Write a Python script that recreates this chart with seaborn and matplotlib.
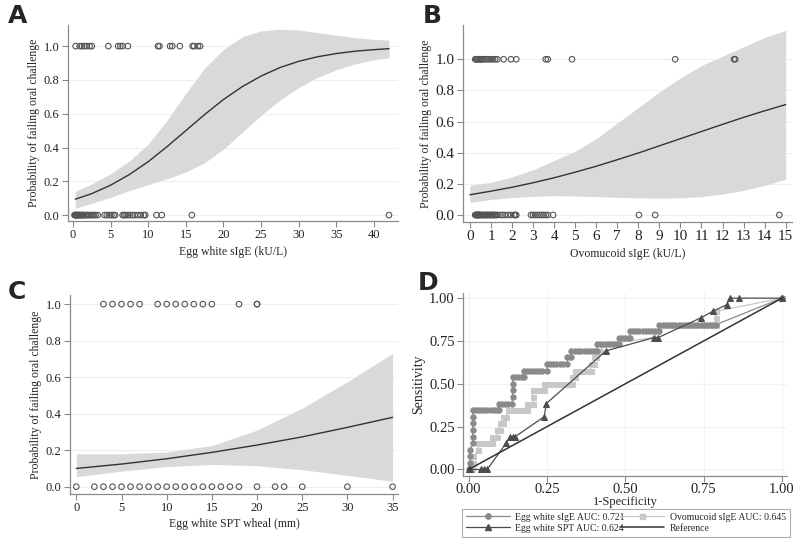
import numpy as np
import pandas as pd
import seaborn as sns
import matplotlib.pyplot as plt
from matplotlib.lines import Line2D
from matplotlib.ticker import FormatStrFormatter

# ---- Panel A: egg white sIgE (kU/L) ----
a_fail = [0.35, 0.9, 1.2, 1.5, 1.8, 2.2, 2.5, 4.7, 6.0, 6.3, 6.6, 7.3,
          11.3, 11.5, 12.9, 13.2, 14.2, 15.9, 16.1, 16.6, 16.9]
a_pass = [0.2, 0.3, 0.35, 0.4, 0.5, 0.55, 0.6, 0.7, 0.8, 0.9, 1.0, 1.1, 1.2,
          1.3, 1.4, 1.5, 1.7, 1.9, 2.0, 2.2, 2.4, 2.6, 2.8, 3.0, 3.3, 4.2,
          4.5, 4.8, 5.1, 5.4, 5.6, 6.6, 6.8, 7.0, 7.3, 7.6, 7.9, 8.2, 8.6,
          9.0, 9.4, 9.6, 11.1, 11.8, 15.8, 42.0]
a_x = [0.3, 2.5, 5, 7.5, 10, 12.5, 15, 17.5, 20, 22.5, 25, 27.5, 30, 32.5,
       35, 37.5, 40, 42]
a_fit = [0.094, 0.127, 0.177, 0.240, 0.316, 0.405, 0.500, 0.595, 0.684,
         0.760, 0.823, 0.873, 0.910, 0.937, 0.956, 0.970, 0.979, 0.985]
a_lo = [0.04, 0.07, 0.105, 0.145, 0.18, 0.215, 0.255, 0.31, 0.39, 0.49,
        0.59, 0.68, 0.755, 0.815, 0.86, 0.895, 0.92, 0.93]
a_hi = [0.14, 0.185, 0.245, 0.32, 0.42, 0.56, 0.72, 0.87, 0.98, 1.055,
        1.09, 1.10, 1.095, 1.08, 1.065, 1.05, 1.04, 1.035]

# ---- Panel B: ovomucoid sIgE (kU/L) ----
b_fail = [0.25, 0.3, 0.35, 0.4, 0.45, 0.5, 0.55, 0.6, 0.7, 0.8, 0.9, 1.0,
          1.1, 1.2, 1.3, 1.6, 1.95, 2.2, 3.6, 3.7, 4.85, 9.75, 12.55, 12.6]
b_pass = [0.25, 0.28, 0.3, 0.33, 0.35, 0.38, 0.4, 0.43, 0.45, 0.48, 0.5,
          0.55, 0.6, 0.65, 0.7, 0.75, 0.8, 0.85, 0.9, 0.95, 1.0, 1.05, 1.1,
          1.15, 1.2, 1.25, 1.3, 1.45, 1.55, 1.65, 1.8, 1.95, 2.1, 2.15, 2.2,
          2.9, 3.0, 3.1, 3.2, 3.3, 3.4, 3.5, 3.6, 3.7, 3.95, 8.03, 8.8, 14.7]
b_x = list(range(16))
b_fit = [0.130, 0.153, 0.178, 0.207, 0.239, 0.275, 0.313, 0.355, 0.398,
         0.444, 0.490, 0.536, 0.582, 0.627, 0.669, 0.709]
b_lo = [0.08, 0.10, 0.112, 0.12, 0.124, 0.122, 0.118, 0.113, 0.11, 0.108,
        0.11, 0.118, 0.135, 0.158, 0.19, 0.23]
b_hi = [0.19, 0.21, 0.245, 0.29, 0.35, 0.41, 0.49, 0.59, 0.69, 0.79, 0.88,
        0.96, 1.02, 1.08, 1.14, 1.185]

# ---- Panel C: egg white SPT wheal (mm) ----
c_fail = [3, 4, 5, 6, 7, 9, 10, 11, 12, 13, 14, 15, 18, 20, 20]
c_pass = [0, 2, 3, 4, 5, 6, 7, 8, 9, 10, 11, 12, 13, 14, 15, 16, 17, 18,
          20, 22, 23, 25, 30, 35]
c_x = [0, 5, 10, 15, 20, 25, 30, 35]
c_fit = [0.10, 0.124, 0.153, 0.188, 0.228, 0.273, 0.325, 0.38]
c_lo = [0.055, 0.085, 0.11, 0.122, 0.115, 0.093, 0.062, 0.03]
c_hi = [0.18, 0.18, 0.19, 0.225, 0.31, 0.43, 0.575, 0.73]

# ---- Panel D: ROC curves ----
sige_fpr = [0, 0.005, 0.005, 0.005, 0.013, 0.013, 0.013, 0.013, 0.013, 0.013,
            0.02, 0.03, 0.04, 0.05, 0.06, 0.07, 0.08, 0.09, 0.096,
            0.096, 0.105, 0.115, 0.125, 0.138,
            0.14, 0.14, 0.14,
            0.14, 0.15, 0.16, 0.17, 0.176,
            0.176, 0.185, 0.195, 0.205, 0.215, 0.225, 0.235, 0.25,
            0.25, 0.26, 0.27, 0.28, 0.29, 0.30, 0.314,
            0.314, 0.322, 0.328,
            0.328, 0.34, 0.35, 0.36, 0.37, 0.38, 0.39, 0.40, 0.41,
            0.41, 0.42, 0.43, 0.44, 0.45, 0.46, 0.47, 0.48,
            0.48, 0.49, 0.50, 0.51, 0.516,
            0.516, 0.525, 0.535, 0.545, 0.555, 0.565, 0.575, 0.585, 0.595, 0.606,
            0.606, 0.62, 0.63, 0.64, 0.65, 0.66, 0.67, 0.68, 0.69, 0.70, 0.71,
            0.72, 0.73, 0.74, 0.75, 0.76, 0.77, 0.78, 0.79,
            1.0]
sige_tpr = [0, 0.038, 0.077, 0.115, 0.154, 0.192, 0.231, 0.269, 0.308, 0.346,
            0.346, 0.346, 0.346, 0.346, 0.346, 0.346, 0.346, 0.346, 0.346,
            0.385, 0.385, 0.385, 0.385, 0.385,
            0.423, 0.462, 0.5,
            0.538, 0.538, 0.538, 0.538, 0.538,
            0.577, 0.577, 0.577, 0.577, 0.577, 0.577, 0.577, 0.577,
            0.615, 0.615, 0.615, 0.615, 0.615, 0.615, 0.615,
            0.654, 0.654, 0.654,
            0.692, 0.692, 0.692, 0.692, 0.692, 0.692, 0.692, 0.692, 0.692,
            0.731, 0.731, 0.731, 0.731, 0.731, 0.731, 0.731, 0.731,
            0.769, 0.769, 0.769, 0.769, 0.769,
            0.808, 0.808, 0.808, 0.808, 0.808, 0.808, 0.808, 0.808, 0.808, 0.808,
            0.846, 0.846, 0.846, 0.846, 0.846, 0.846, 0.846, 0.846, 0.846, 0.846,
            0.846, 0.846, 0.846, 0.846, 0.846, 0.846, 0.846, 0.846, 0.846,
            1.0]

ovo_fpr = [0, 0.01, 0.015, 0.015, 0.03,
           0.03, 0.04, 0.05, 0.06, 0.074,
           0.074, 0.082, 0.09,
           0.09, 0.10,
           0.10, 0.11,
           0.11, 0.12,
           0.125, 0.135, 0.145, 0.155, 0.165, 0.175, 0.185,
           0.185, 0.195, 0.205,
           0.205,
           0.205, 0.215, 0.225, 0.24,
           0.24, 0.25, 0.26, 0.27, 0.28, 0.29, 0.30, 0.31, 0.32, 0.33,
           0.33, 0.34,
           0.34, 0.35, 0.36, 0.37, 0.38, 0.39,
           0.39, 0.40,
           0.40, 0.405,
           0.41, 0.42,
           0.43, 0.59, 0.60,
           0.61, 0.63, 0.65, 0.67, 0.69, 0.71, 0.73, 0.75, 0.77, 0.79,
           0.79, 0.79, 1.0]
ovo_tpr = [0, 0, 0.038, 0.077, 0.115,
           0.154, 0.154, 0.154, 0.154, 0.154,
           0.192, 0.192, 0.192,
           0.231, 0.231,
           0.269, 0.269,
           0.308, 0.308,
           0.346, 0.346, 0.346, 0.346, 0.346, 0.346, 0.346,
           0.385, 0.385, 0.385,
           0.423,
           0.462, 0.462, 0.462, 0.462,
           0.5, 0.5, 0.5, 0.5, 0.5, 0.5, 0.5, 0.5, 0.5, 0.5,
           0.538, 0.538,
           0.577, 0.577, 0.577, 0.577, 0.577, 0.577,
           0.615, 0.615,
           0.654, 0.654,
           0.692, 0.692,
           0.731, 0.769, 0.808,
           0.846, 0.846, 0.846, 0.846, 0.846, 0.846, 0.846, 0.846, 0.846, 0.846,
           0.885, 0.923, 1.0]

spt_fpr = [0, 0.005, 0.04, 0.048, 0.059, 0.12, 0.133, 0.141, 0.149, 0.241,
           0.248, 0.438, 0.59, 0.604, 0.741, 0.779, 0.824, 0.833, 0.864, 1.0]
spt_tpr = [0, 0, 0, 0, 0, 0.154, 0.192, 0.192, 0.192, 0.308,
           0.385, 0.692, 0.769, 0.769, 0.885, 0.923, 0.962, 1.0, 1.0, 1.0]

ref_fpr = [0, 1]
ref_tpr = [0, 1]

roc_labels = ["Egg white sIgE AUC: 0.721", "Egg white SPT AUC: 0.624",
              "Ovomucoid sIgE AUC: 0.645", "Reference"]

YLABEL = "Probability of failing oral challenge"
AXIS_GREY = "#8a8a8a"

sns.set_theme(style="white")
plt.rcParams["font.family"] = ["Liberation Serif", "DejaVu Serif"]


def style_axes(ax, tick_size):
    sns.despine(ax=ax)
    for side in ["left", "bottom"]:
        ax.spines[side].set_color(AXIS_GREY)
        ax.spines[side].set_linewidth(0.9)
    ax.tick_params(axis="both", which="both", direction="out", length=4,
                   width=0.8, color=AXIS_GREY, labelsize=tick_size,
                   left=True, bottom=True, pad=2, labelcolor="#222222")


def plot_logit(ax, fail, passed, x, fit, lo, hi, xlabel, xticks, xlim, ylim,
               tick_size):
    ax.set_axisbelow(True)
    ax.yaxis.grid(True, color="#efefef", lw=0.8)
    ax.fill_between(x, lo, hi, color="#d9d9d9", lw=0, zorder=1)
    sns.lineplot(x=x, y=fit, ax=ax, color="#333333", lw=1.0, zorder=2)
    pts = pd.DataFrame({
        "x": list(fail) + list(passed),
        "y": [1.0] * len(fail) + [0.0] * len(passed),
    })
    sns.scatterplot(data=pts, x="x", y="y", ax=ax, marker="o", s=16,
                    facecolor="none", edgecolor="#555555", linewidth=0.8,
                    zorder=3)
    ax.set_xlim(*xlim)
    ax.set_ylim(*ylim)
    ax.set_xticks(xticks)
    ax.set_yticks([0, 0.2, 0.4, 0.6, 0.8, 1.0])
    ax.yaxis.set_major_formatter(FormatStrFormatter("%.1f"))
    ax.set_xlabel(xlabel, fontsize=8.5, labelpad=3)
    ax.set_ylabel(YLABEL, fontsize=8.5, labelpad=3)
    style_axes(ax, tick_size)


W, H = 800, 552
fig = plt.figure(figsize=(W / 100, H / 100), dpi=100)


def add_ax(left, top, right, bottom):
    return fig.add_axes([left / W, 1 - bottom / H, (right - left) / W,
                         (bottom - top) / H])


ax_a = add_ax(68, 25, 398, 221)
ax_b = add_ax(463, 25, 792, 222)
ax_c = add_ax(70, 295, 398, 494)
ax_d = add_ax(463, 293, 787, 476)

plot_logit(ax_a, a_fail, a_pass, a_x, a_fit, a_lo, a_hi,
           "Egg white sIgE (kU/L)", range(0, 45, 5), (-0.66, 43.2),
           (-0.035, 1.125), 9)
plot_logit(ax_b, b_fail, b_pass, b_x, b_fit, b_lo, b_hi,
           "Ovomucoid sIgE (kU/L)", range(0, 16), (-0.33, 15.3),
           (-0.045, 1.22), 11)
plot_logit(ax_c, c_fail, c_pass, c_x, c_fit, c_lo, c_hi,
           "Egg white SPT wheal (mm)", range(0, 40, 5), (-0.7, 35.6),
           (-0.04, 1.05), 9)

# ROC panel
ax_d.set_axisbelow(True)
ax_d.grid(True, color="#f2f2f2", lw=0.8)
sns.lineplot(x=ovo_fpr, y=ovo_tpr, ax=ax_d, sort=False, estimator=None,
             color="#c8c8c8", lw=0.9, marker="s", ms=3.6, mec="#c8c8c8",
             zorder=2)
sns.lineplot(x=sige_fpr, y=sige_tpr, ax=ax_d, sort=False, estimator=None,
             color="#8a8a8a", lw=0.9, marker="o", ms=3.8, mec="#8a8a8a",
             zorder=3)
sns.lineplot(x=spt_fpr, y=spt_tpr, ax=ax_d, sort=False, estimator=None,
             color="#4d4d4d", lw=0.9, marker="^", ms=4.5, mec="#4d4d4d",
             zorder=4)
sns.lineplot(x=ref_fpr, y=ref_tpr, ax=ax_d, sort=False, estimator=None,
             color="#333333", lw=1.1, zorder=5)
ax_d.set_xlim(-0.018, 1.016)
ax_d.set_ylim(-0.038, 1.03)
ticks = [0, 0.25, 0.5, 0.75, 1.0]
ax_d.set_xticks(ticks)
ax_d.set_yticks(ticks)
ax_d.xaxis.set_major_formatter(FormatStrFormatter("%.2f"))
ax_d.yaxis.set_major_formatter(FormatStrFormatter("%.2f"))
ax_d.set_ylabel("Sensitivity", fontsize=10, labelpad=3)
style_axes(ax_d, 10.5)
ax_d.tick_params(axis="x", pad=1)
ax_d.set_xlabel("1-Specificity", fontsize=9, labelpad=0)

handles = [
    Line2D([], [], color="#8a8a8a", lw=0.9, marker="o", ms=3.8),
    Line2D([], [], color="#4d4d4d", lw=0.9, marker="^", ms=4.5),
    Line2D([], [], color="#c8c8c8", lw=0.9, marker="s", ms=3.6),
    Line2D([], [], color="#333333", lw=1.1),
]
leg = fig.legend(handles, roc_labels, ncol=2, loc="upper left",
                 bbox_to_anchor=(462 / W, 1 - 542 / H, 328 / W, 33 / H),
                 mode="expand", fontsize=7, frameon=True, fancybox=False,
                 edgecolor="#999999", handlelength=4.5, borderpad=0.4,
                 labelspacing=0.2, columnspacing=1.0, handletextpad=0.6,
                 borderaxespad=0)
leg.get_frame().set_linewidth(0.8)

for letter, (px, py) in zip("ABCD", [(8, 4), (423, 4), (8, 280), (418, 271)]):
    fig.text(px / W, 1 - py / H, letter, fontsize=18, fontweight="bold",
             family="DejaVu Sans", va="top", ha="left")

fig.savefig("out.png", dpi=100)
